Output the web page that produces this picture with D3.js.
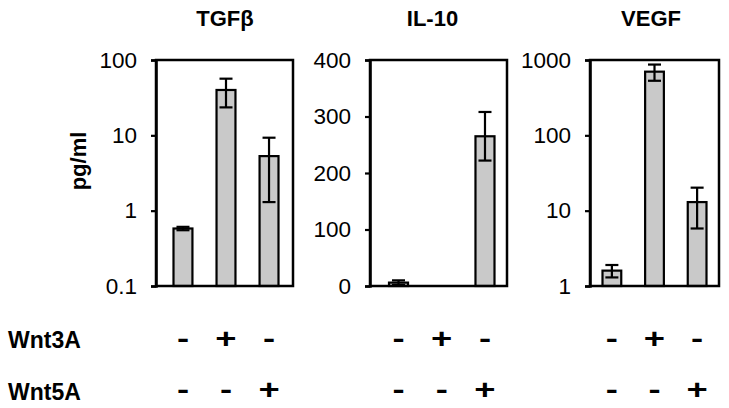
<!DOCTYPE html>
<html><head><meta charset="utf-8">
<script src="https://cdn.jsdelivr.net/npm/d3@7"></script>
<style>body{margin:0;background:#fff}svg{display:block}text{font-family:"Liberation Sans",Arial,sans-serif}</style>
</head><body>
<svg id="c" width="729" height="408"></svg>
<script>
// Data
const panelTitles = ["TGFβ", "IL-10", "VEGF"];
const conditions = ["ctrl", "Wnt3A", "Wnt5A"];
const tgfbMean = [0.58, 40, 5.3];
const tgfbErr = [0.03, 16.5, 4.0];
const il10Mean = [6, 0, 265];
const il10Err = [4, 0, 43];
const vegfMean = [1.6, 700, 13];
const vegfErr = [0.3, 170, 7.2];
const tgfbTicks = [0.1, 1, 10, 100];
const tgfbTickLabels = ["0.1", "1", "10", "100"];
const il10Ticks = [0, 100, 200, 300, 400];
const il10TickLabels = ["0", "100", "200", "300", "400"];
const vegfTicks = [1, 10, 100, 1000];
const vegfTickLabels = ["1", "10", "100", "1000"];
const rowLabels = ["Wnt3A", "Wnt5A"];
const wnt3aSigns = ["-", "+", "-"];
const wnt5aSigns = ["-", "-", "+"];
const yLabel = "pg/ml";

const svg = d3.select("#c");
const plotTop = 60, plotBottom = 286;

const panels = [
  {title: panelTitles[0], mean: tgfbMean, err: tgfbErr, ticks: tgfbTicks, labels: tgfbTickLabels, log: true,
   domain: [0.1, 100], left: 156, right: 293, inL: 17.5, inR: 14.5, tdx: 0.5},
  {title: panelTitles[1], mean: il10Mean, err: il10Err, ticks: il10Ticks, labels: il10TickLabels, log: false,
   domain: [0, 400], left: 370, right: 507, inL: 19, inR: 12.5, tdx: -6},
  {title: panelTitles[2], mean: vegfMean, err: vegfErr, ticks: vegfTicks, labels: vegfTickLabels, log: true,
   domain: [1, 1000], left: 590, right: 719, inL: 12.5, inR: 12.5, tdx: -3.5}
];

panels.forEach((p, pi) => {
  const y = (p.log ? d3.scaleLog() : d3.scaleLinear()).domain(p.domain).range([plotBottom, plotTop]);
  const x = d3.scaleBand().domain(d3.range(conditions.length))
    .range([p.left + p.inL, p.right - p.inR]).paddingInner(0.56).paddingOuter(0);
  const g = svg.append("g");
  const rows = p.mean.map((v, i) => ({v, e: p.err[i], i})).filter(d => d.v > 0);
  // bars
  g.selectAll("rect.bar").data(rows)
    .join("rect").attr("class", "bar")
    .attr("x", d => x(d.i)).attr("width", x.bandwidth())
    .attr("y", d => y(d.v)).attr("height", d => plotBottom - y(d.v))
    .attr("fill", "#c9c9c9").attr("stroke", "#000").attr("stroke-width", 2.2);
  // error bars
  const eb = g.selectAll("g.eb").data(rows).join("g").attr("class", "eb");
  const cx = d => x(d.i) + x.bandwidth() / 2;
  const lo = d => y(Math.max(d.v - d.e, p.domain[0]));
  const hi = d => y(d.v + d.e);
  eb.append("line").attr("x1", cx).attr("x2", cx).attr("y1", lo).attr("y2", hi)
    .attr("stroke", "#000").attr("stroke-width", 2.2);
  eb.append("line").attr("x1", d => cx(d) - 6.5).attr("x2", d => cx(d) + 6.5)
    .attr("y1", hi).attr("y2", hi).attr("stroke", "#000").attr("stroke-width", 2.2);
  eb.append("line").attr("x1", d => cx(d) - 6.5).attr("x2", d => cx(d) + 6.5)
    .attr("y1", lo).attr("y2", lo).attr("stroke", "#000").attr("stroke-width", 2.2);
  // frame
  g.append("rect").attr("x", p.left).attr("y", plotTop).attr("width", p.right - p.left).attr("height", plotBottom - plotTop)
    .attr("fill", "none").attr("stroke", "#000").attr("stroke-width", 2.5);
  // axis
  const ax = g.append("g").attr("transform", `translate(${p.left},0)`)
    .call(d3.axisLeft(y).tickValues(p.ticks).tickFormat((d, i) => p.labels[i]).tickSize(5).tickPadding(14));
  ax.select(".domain").attr("stroke-width", 2.5);
  ax.selectAll(".tick line").attr("stroke-width", 2.2);
  ax.selectAll("text").attr("font-size", 22.5).attr("fill", "#000")
    .attr("font-family", '"Liberation Sans",Arial,sans-serif');
  // title
  svg.append("text").attr("x", (p.left + p.right) / 2 + p.tdx).attr("y", 26).attr("text-anchor", "middle")
    .attr("font-size", 22).attr("font-weight", "bold").text(p.title);
  // signs
  [wnt3aSigns, wnt5aSigns].forEach((signs, r) => {
    svg.append("g").selectAll("g").data(signs).join("g")
      .attr("transform", (d, i) => `translate(${x(i) + x.bandwidth() / 2},${r === 0 ? 348 : 399}) scale(1.3,1)`)
      .append("text").attr("text-anchor", "middle").attr("font-size", 28).attr("font-weight", "bold").text(d => d);
  });
});

// y label
svg.append("text").attr("transform", "translate(86,161) rotate(-90)").attr("text-anchor", "middle")
  .attr("font-size", 22).attr("font-weight", "bold").text(yLabel);
// row labels
svg.append("g").selectAll("text").data(rowLabels).join("text")
  .attr("x", 8).attr("y", (d, i) => i === 0 ? 348 : 400)
  .attr("font-size", 23).attr("font-weight", "bold").text(d => d);
</script>
</body></html>
